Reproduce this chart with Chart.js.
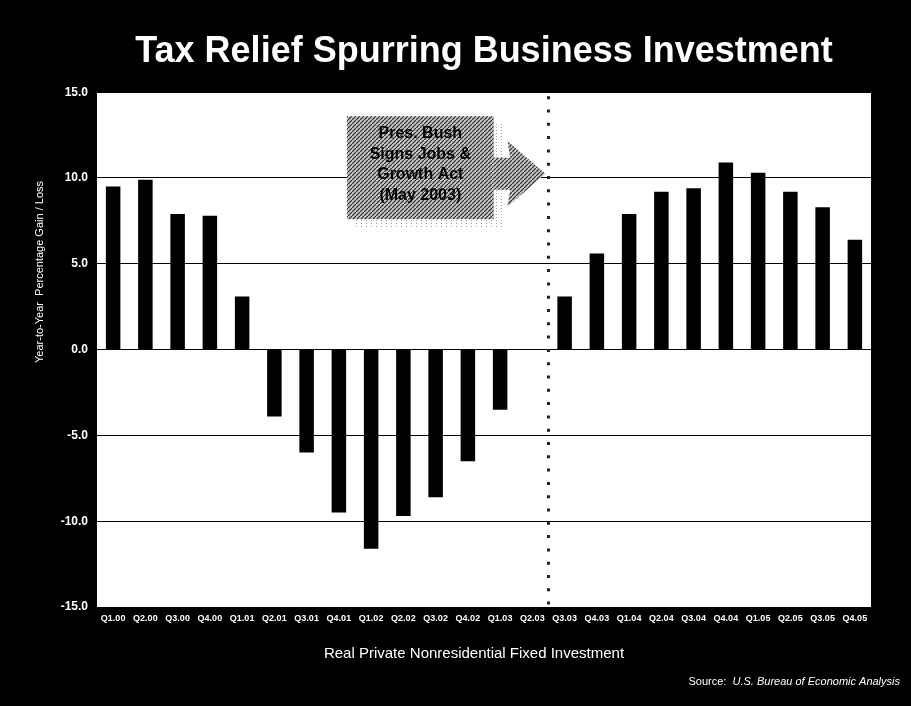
<!DOCTYPE html>
<html>
<head>
<meta charset="utf-8">
<title>Tax Relief Spurring Business Investment</title>
<script src="https://cdn.jsdelivr.net/npm/chart.js@4.4.1/dist/chart.umd.min.js"></script>
<style>
    html, body { margin: 0; padding: 0; background: #000; }
    canvas { display: block; }
</style>
</head>
<body>
<canvas id="investment-chart" width="911" height="706"></canvas>
<script>
// Real private nonresidential fixed investment, year-over-year % change
const quarters = [
    "Q1.00", "Q2.00", "Q3.00", "Q4.00",
    "Q1.01", "Q2.01", "Q3.01", "Q4.01",
    "Q1.02", "Q2.02", "Q3.02", "Q4.02",
    "Q1.03", "Q2.03", "Q3.03", "Q4.03",
    "Q1.04", "Q2.04", "Q3.04", "Q4.04",
    "Q1.05", "Q2.05", "Q3.05", "Q4.05"
];
const investmentGrowth = [
    9.5, 9.9, 7.9, 7.8,
    3.1, -3.9, -6.0, -9.5,
    -11.6, -9.7, -8.6, -6.5,
    -3.5, null, 3.1, 5.6,
    7.9, 9.2, 9.4, 10.9,
    10.3, 9.2, 8.3, 6.4
];
const yTicks = [-15, -10, -5, 0, 5, 10, 15];

const chartTitle = "Tax Relief Spurring Business Investment";
const xTitle = "Real Private Nonresidential Fixed Investment";
const yTitle = "Year-to-Year  Percentage Gain / Loss";
const sourceLabel = "Source:";
const sourceName = "U.S. Bureau of Economic Analysis";
const calloutLines = ["Pres. Bush", "Signs Jobs &", "Growth Act", "(May 2003)"];

// Jobs & Growth Act signed between Q2.03 and Q3.03
const signingIndex = 13.5;

const FONT = '"Liberation Sans", Arial, Helvetica, sans-serif';

// Diagonal hatch used by the callout box and arrow
function hatchPattern(ctx) {
    const tile = document.createElement("canvas");
    tile.width = 4;
    tile.height = 4;
    const t = tile.getContext("2d");
    t.fillStyle = "#c4c4c4";
    t.fillRect(0, 0, 4, 4);
    t.strokeStyle = "#2e2e2e";
    t.lineWidth = 1.2;
    t.beginPath();
    t.moveTo(-1, 5);
    t.lineTo(5, -1);
    t.stroke();
    return ctx.createPattern(tile, "repeat");
}

// Sparse speckle for the drop shadow
function specklePattern(ctx) {
    const tile = document.createElement("canvas");
    tile.width = 5;
    tile.height = 3;
    const t = tile.getContext("2d");
    t.fillStyle = "#a0a0a0";
    t.fillRect(1, 1, 1, 1);
    return ctx.createPattern(tile, "repeat");
}

const slideBackground = {
    id: "slideBackground",
    beforeDraw(chart) {
        const { ctx, chartArea: a } = chart;
        ctx.save();
        ctx.fillStyle = "#000";
        ctx.fillRect(0, 0, chart.width, chart.height);
        ctx.fillStyle = "#fff";
        ctx.fillRect(a.left, a.top, a.right - a.left, a.bottom - a.top);
        ctx.restore();
    }
};

const signingMarker = {
    id: "signingMarker",
    afterDatasetsDraw(chart) {
        const { ctx, chartArea: a, scales: { x, y } } = chart;
        const lineX = x.getPixelForValue(signingIndex);

        // dotted divider
        ctx.save();
        ctx.strokeStyle = "#222";
        ctx.lineWidth = 3;
        ctx.setLineDash([3, 10.3]);
        ctx.beginPath();
        ctx.moveTo(lineX, a.top + 4);
        ctx.lineTo(lineX, a.bottom);
        ctx.stroke();
        ctx.restore();

        // callout box
        const left = x.getPixelForValue(7.25);
        const right = x.getPixelForValue(11.8);
        const top = y.getPixelForValue(13.6);
        const bottom = y.getPixelForValue(7.6);
        const hatch = hatchPattern(ctx);

        ctx.save();
        ctx.fillStyle = specklePattern(ctx);
        ctx.fillRect(left + 8, top + 8, right - left + 2, bottom - top);

        ctx.fillStyle = hatch;
        ctx.fillRect(left, top, right - left, bottom - top);

        // arrow towards the divider
        const arrowY = y.getPixelForValue(10.25);
        const tipX = x.getPixelForValue(13.4);
        const neckX = tipX - 35;
        ctx.beginPath();
        ctx.moveTo(right, arrowY - 16);
        ctx.lineTo(neckX, arrowY - 16);
        ctx.lineTo(neckX - 3, arrowY - 33);
        ctx.lineTo(tipX, arrowY);
        ctx.lineTo(neckX - 3, arrowY + 33);
        ctx.lineTo(neckX, arrowY + 16);
        ctx.lineTo(right, arrowY + 16);
        ctx.closePath();
        ctx.fill();

        ctx.fillStyle = "#000";
        ctx.font = "bold 16px " + FONT;
        ctx.textAlign = "center";
        ctx.textBaseline = "middle";
        const cx = (left + right) / 2;
        const lineGap = 20.5;
        const firstY = (top + bottom) / 2 - 3 - lineGap * (calloutLines.length - 1) / 2;
        calloutLines.forEach((line, i) => ctx.fillText(line, cx, firstY + i * lineGap));
        ctx.restore();
    }
};

const slideText = {
    id: "slideText",
    afterDraw(chart) {
        const { ctx, chartArea: a } = chart;
        ctx.save();
        ctx.fillStyle = "#fff";

        // y axis title, sits above the axis centre
        ctx.save();
        ctx.translate(40, 272);
        ctx.rotate(-Math.PI / 2);
        ctx.font = "11px " + FONT;
        ctx.textAlign = "center";
        ctx.textBaseline = "middle";
        ctx.fillText(yTitle, 0, 0);
        ctx.restore();

        // x axis title
        ctx.font = "15px " + FONT;
        ctx.textAlign = "center";
        ctx.textBaseline = "middle";
        ctx.fillText(xTitle, (a.left + a.right) / 2 - 10, 654);

        // source note, right aligned
        ctx.textAlign = "left";
        ctx.font = "italic 11px " + FONT;
        const nameWidth = ctx.measureText(sourceName).width;
        const nameX = 900 - nameWidth;
        ctx.fillText(sourceName, nameX, 682);
        ctx.font = "11px " + FONT;
        const labelWidth = ctx.measureText(sourceLabel + "  ").width;
        ctx.fillText(sourceLabel, nameX - labelWidth, 682);
        ctx.restore();
    }
};

const canvas = document.getElementById("investment-chart");
const investmentChart = new Chart(canvas, {
    type: "bar",
    data: {
        labels: quarters,
        datasets: [{
            label: "Real Private Nonresidential Fixed Investment",
            data: investmentGrowth,
            backgroundColor: "#000",
            borderWidth: 0,
            barPercentage: 0.9,
            categoryPercentage: 0.5
        }]
    },
    options: {
        responsive: false,
        animation: false,
        devicePixelRatio: 1,
        layout: {
            padding: { left: 0, right: 40, top: 0, bottom: 0 }
        },
        scales: {
            x: {
                grid: { display: false },
                border: { display: false },
                ticks: {
                    color: "#fff",
                    autoSkip: false,
                    maxRotation: 0,
                    minRotation: 0,
                    padding: -2,
                    font: { family: FONT, size: 9, weight: "bold" }
                },
                afterFit(scale) { scale.height = 99; }
            },
            y: {
                min: yTicks[0],
                max: yTicks[yTicks.length - 1],
                afterBuildTicks(scale) {
                    scale.ticks = yTicks.map(v => ({ value: v }));
                },
                grid: {
                    color: "#000",
                    lineWidth: 1,
                    drawTicks: false
                },
                border: { display: false },
                ticks: {
                    color: "#fff",
                    padding: 9,
                    font: { family: FONT, size: 12, weight: "bold" },
                    callback: v => v.toFixed(1)
                },
                afterFit(scale) { scale.width = 97; }
            }
        },
        plugins: {
            legend: { display: false },
            tooltip: { enabled: false },
            title: {
                display: true,
                text: chartTitle,
                color: "#fff",
                fullSize: false,
                padding: { top: 30, bottom: 19 },
                font: { family: FONT, size: 36, weight: "bold" }
            }
        }
    },
    plugins: [slideBackground, signingMarker, slideText]
});
</script>
</body>
</html>
